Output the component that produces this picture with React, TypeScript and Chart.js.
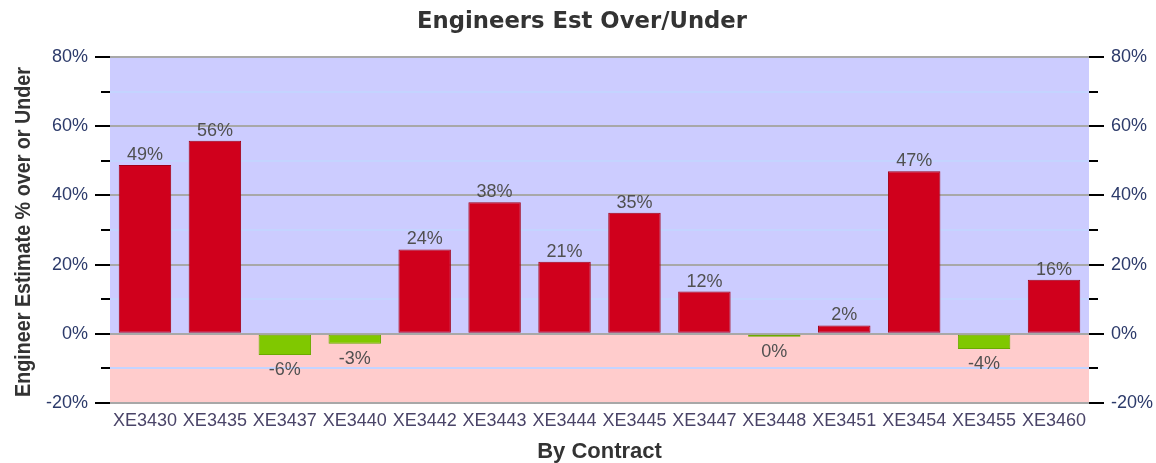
import React, { useEffect, useRef } from "react";
import { Chart, registerables } from "chart.js";

Chart.register(...registerables);

const categories = ["XE3430", "XE3435", "XE3437", "XE3440", "XE3442", "XE3443", "XE3444", "XE3445", "XE3447", "XE3448", "XE3451", "XE3454", "XE3455", "XE3460"];
const overUnder = [48.8, 55.8, -6.1, -2.9, 24.4, 38, 20.8, 35, 12.2, -0.5, 2.4, 47, -4.4, 15.6];
const yMin = -20;
const yMax = 80;
const tickStep = 10;
const labelStep = 20;
const chartTitle = "Engineers Est Over/Under";
const xTitle = "By Contract";
const yTitle = "Engineer Estimate % over or Under";

const SANS = "'Liberation Sans', Arial, sans-serif";
const HEAVY = "'DejaVu Sans', 'Liberation Sans', sans-serif";

const bgPlugin = {
  id: "bgBands",
  beforeDraw(chart: any) {
    const { ctx, chartArea, scales } = chart;
    const y0 = scales.y.getPixelForValue(0);
    ctx.save();
    ctx.fillStyle = "#CCCCFF";
    ctx.fillRect(chartArea.left, chartArea.top, chartArea.right - chartArea.left, y0 - chartArea.top);
    ctx.fillStyle = "#FFCCCC";
    ctx.fillRect(chartArea.left, y0, chartArea.right - chartArea.left, chartArea.bottom - y0);
    ctx.restore();
  },
  afterDraw(chart: any) {
    const { ctx, chartArea, scales, width } = chart;
    ctx.save();
    ctx.strokeStyle = "#000";
    ctx.lineWidth = 2;
    for (let v = yMin; v <= yMax; v += tickStep) {
      const y = Math.round(scales.y.getPixelForValue(v));
      const len = v % labelStep === 0 ? 15 : 9;
      ctx.beginPath();
      ctx.moveTo(chartArea.left - len, y);
      ctx.lineTo(chartArea.left, y);
      ctx.moveTo(chartArea.right, y);
      ctx.lineTo(chartArea.right + len, y);
      ctx.stroke();
    }
    // chart title
    ctx.fillStyle = "#333333";
    ctx.textAlign = "center";
    ctx.textBaseline = "alphabetic";
    ctx.font = `bold 23px ${HEAVY}`;
    let w = ctx.measureText(chartTitle).width;
    ctx.save();
    ctx.translate(width / 2 + 4, 28);
    ctx.scale(330 / w, 1);
    ctx.fillText(chartTitle, 0, 0);
    ctx.restore();
    // x title
    const cx = (chartArea.left + chartArea.right) / 2;
    ctx.font = `bold 22px ${SANS}`;
    ctx.fillText(xTitle, cx, 458);
    // y title
    const cy = (chartArea.top + chartArea.bottom) / 2;
    ctx.font = `bold 22px ${SANS}`;
    w = ctx.measureText(yTitle).width;
    ctx.save();
    ctx.translate(30, cy + 2);
    ctx.rotate(-Math.PI / 2);
    ctx.scale(330 / w, 1);
    ctx.fillText(yTitle, 0, 0);
    ctx.restore();
    ctx.restore();
  },
};

const labelPlugin = {
  id: "valueLabels",
  afterDatasetsDraw(chart: any) {
    const { ctx } = chart;
    const meta = chart.getDatasetMeta(0);
    ctx.save();
    ctx.font = `18px ${SANS}`;
    ctx.fillStyle = "#505050";
    ctx.textAlign = "center";
    ctx.textBaseline = "alphabetic";
    meta.data.forEach((bar: any, i: number) => {
      const v = overUnder[i];
      const r = Math.round(v);
      const txt = `${r === 0 ? 0 : r}%`;
      if (v >= 0) {
        ctx.fillText(txt, bar.x, bar.y - 5);
      } else {
        ctx.fillText(txt, bar.x, bar.y + 20);
      }
    });
    ctx.restore();
  },
};

export default function App() {
  const ref = useRef<HTMLCanvasElement>(null);
  useEffect(() => {
    document.body.style.margin = "0";
    const yTicks = {
      stepSize: tickStep,
      color: "#2c3a6a",
      font: { family: SANS, size: 18 },
      padding: 22,
      callback: (v: any) => (v % labelStep === 0 ? `${v}%` : ""),
    };
    const fixWidth = (s: any) => {
      s.width = 64;
    };
    const chart = new Chart(ref.current!, {
      type: "bar",
      data: {
        labels: categories,
        datasets: [
          {
            data: overUnder,
            backgroundColor: overUnder.map((v) => (v >= 0 ? "#D0001C" : "#80C800")),
            borderColor: overUnder.map((v) => (v >= 0 ? "#A00018" : "#6AAA00")),
            borderWidth: 1,
            borderSkipped: false,
            minBarLength: 3,
            barPercentage: 0.75,
            categoryPercentage: 1,
          },
        ],
      },
      options: {
        animation: false,
        responsive: false,
        maintainAspectRatio: false,
        layout: { padding: { left: 46, right: 3, top: 57, bottom: 31 } },
        plugins: {
          legend: { display: false },
          tooltip: { enabled: false },
          title: { display: false },
        },
        scales: {
          x: {
            grid: { display: false, drawTicks: false },
            border: { display: false },
            afterFit: (s: any) => {
              s.height = 29;
            },
            ticks: {
              color: "#4a4468",
              font: { family: SANS, size: 18 },
              padding: 7,
              maxRotation: 0,
              autoSkip: false,
            },
          },
          y: {
            position: "left",
            min: yMin,
            max: yMax,
            afterFit: fixWidth,
            grid: {
              drawTicks: false,
              color: (c: any) => (c.tick && c.tick.value % labelStep === 0 ? "#A8A8A8" : "#C4D4FF"),
              lineWidth: 2,
            },
            border: { display: false },
            ticks: yTicks,
          },
          y2: {
            position: "right",
            min: yMin,
            max: yMax,
            afterFit: fixWidth,
            grid: { display: false, drawTicks: false },
            border: { display: false },
            ticks: yTicks,
          },
        },
      },
      plugins: [bgPlugin, labelPlugin],
    });
    return () => chart.destroy();
  }, []);
  return <canvas ref={ref} width={1156} height={463} style={{ display: "block" }} />;
}
